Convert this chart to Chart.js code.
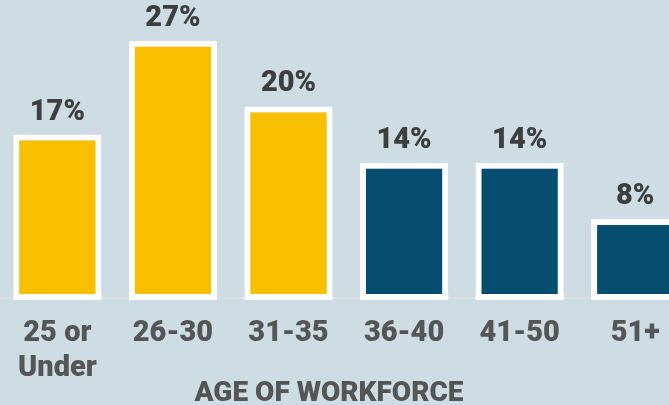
<!DOCTYPE html>
<html>
<head>
<meta charset="utf-8">
<script src="https://cdn.jsdelivr.net/npm/chart.js@4"></script>
<style>
  html, body { margin: 0; padding: 0; background: #cedce3; overflow: hidden; width: 669px; height: 405px; }
  #wrap { position: absolute; left: -5px; top: 0; width: 698px; height: 405px; }
</style>
</head>
<body>
<div id="wrap"><canvas id="c"></canvas></div>
<script>
const categories = [["25 or", "Under"], "26-30", "31-35", "36-40", "41-50", "51+"];
const shares = [17, 27, 20, 14, 14, 8];
const barColors = ["#f8c000", "#f8c000", "#f8c000", "#064e6f", "#064e6f", "#064e6f"];
const axisTitle = "AGE OF WORKFORCE";

const FONT = "Roboto, 'Open Sans', sans-serif";

const decor = {
  id: 'decor',
  beforeDatasetsDraw(chart) {
    const ctx = chart.ctx;
    const y0 = chart.scales.y.getPixelForValue(0);
    ctx.save();
    ctx.fillStyle = '#dde0e3';
    ctx.fillRect(0, y0 + 3, chart.width, 2);
    ctx.restore();
  },
  afterDatasetsDraw(chart) {
    const ctx = chart.ctx;
    const meta = chart.getDatasetMeta(0);
    ctx.save();
    ctx.fillStyle = '#ffffff';
    meta.data.forEach(el => {
      const p = el.getProps(['x', 'base', 'width'], true);
      ctx.fillRect(p.x - p.width / 2, p.base, p.width, 6);
    });
    ctx.font = "900 29px " + FONT;
    ctx.fillStyle = '#3e3e3e';
    ctx.textAlign = 'center';
    ctx.textBaseline = 'alphabetic';
    meta.data.forEach((el, i) => {
      const p = el.getProps(['x', 'y'], true);
      ctx.fillText(shares[i] + '%', p.x, p.y - 15);
    });
    ctx.font = "900 28px " + FONT;
    ctx.fillStyle = '#555555';
    ctx.fillText(axisTitle, 334, 401);
    ctx.restore();
  }
};

new Chart(document.getElementById('c'), {
  type: 'bar',
  data: {
    labels: categories,
    datasets: [{
      data: shares,
      backgroundColor: barColors,
      borderColor: '#ffffff',
      borderWidth: { top: 6, left: 6, right: 6, bottom: 0 },
      borderSkipped: false,
      barPercentage: 0.763,
      categoryPercentage: 1.0
    }]
  },
  options: {
    responsive: true,
    maintainAspectRatio: false,
    animation: false,
    layout: { padding: 0 },
    plugins: { legend: { display: false }, tooltip: { enabled: false } },
    scales: {
      x: {
        grid: { display: false, drawTicks: false },
        border: { display: false },
        ticks: {
          color: '#555555',
          padding: 23,
          maxRotation: 0,
          autoSkip: false,
          font: { family: FONT, size: 29, weight: '900', lineHeight: 1.18 }
        },
        afterFit(scale) { scale.height = 111; }
      },
      y: {
        display: false,
        min: 0,
        max: 31.34
      }
    }
  },
  plugins: [decor]
});
</script>
</body>
</html>
